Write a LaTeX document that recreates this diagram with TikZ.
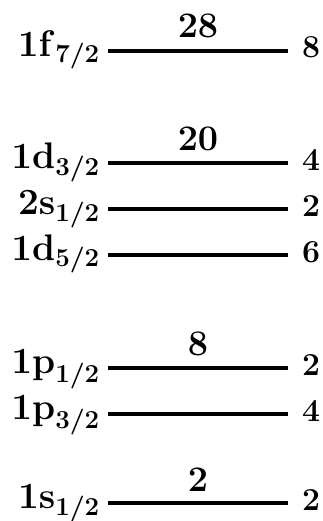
\RequirePackage{fix-cm}
\documentclass[tikz,border=0pt]{standalone}
\begin{document}
\begin{tikzpicture}[x=1pt,y=-1pt,
  level/.style={line width=4.2pt},
  lab/.style={anchor=base east,inner sep=0pt,font=\fontsize{37}{40}\selectfont\boldmath},
  deg/.style={anchor=base west,inner sep=0pt,font=\fontsize{32}{35}\selectfont\boldmath},
  magic/.style={anchor=base,inner sep=0pt,font=\fontsize{36}{39}\selectfont\boldmath}]
\useasboundingbox (0,0) rectangle (322,521);
\foreach \n/\y/\name/\jn/\g in {a/50.7/1f/7/8, b/163.3/1d/3/4, c/209.3/2s/1/2, d/255/1d/5/6, e/368.3/1p/1/2, f/414.3/1p/3/4, g/503.3/1s/1/2}{
  \coordinate (\n-l) at (108,\y);
  \coordinate (\n-r) at (288,\y);
  \draw[level] (\n-l) -- (\n-r);
  \node[lab] (\n-lab) at (100,\y+5.5) {$\mathbf{\name}_{\mathbf{\jn/2}}$};
  \node[deg] (\n-deg) at (302,\y+7) {$\mathbf{\g}$};
}
\node[magic] (m28) at (198,37.5) {$\mathbf{28}$};
\node[magic] (m20) at (198,151) {$\mathbf{20}$};
\node[magic] (m8) at (198,355.5) {$\mathbf{8}$};
\node[magic] (m2) at (198,491) {$\mathbf{2}$};
\end{tikzpicture}
\end{document}
